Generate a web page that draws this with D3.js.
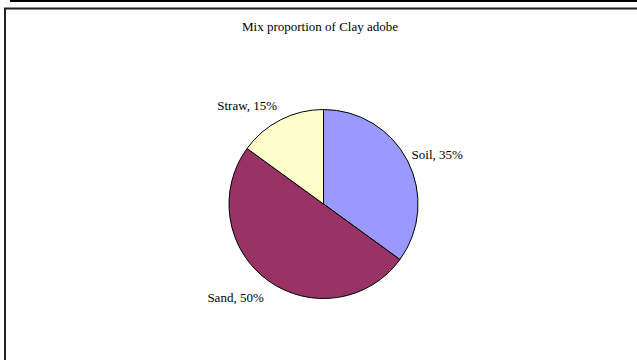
<!DOCTYPE html>
<html>
<head>
<meta charset="utf-8">
<script src="https://cdn.jsdelivr.net/npm/d3@7"></script>
<style>
  body { margin: 0; background: #fff; }
  text { font-family: "Liberation Serif", "Times New Roman", serif; fill: #000; }
</style>
</head>
<body>
<div id="chartArea"></div>
<script>
var title = "Mix proportion of Clay adobe";
var categories = ["Soil", "Sand", "Straw"];
var shares = [35, 50, 15];
var sliceColors = ["#9999ff", "#993366", "#ffffcc"];

var width = 637, height = 360;
var cx = 323.5, cy = 204, radius = 94.5;
// label nudges relative to a point just outside each slice (layout only)
var labelNudge = [[-1, 0.5], [-1, 17], [-1, -5]];

var svg = d3
  .select("#chartArea")
  .append("svg")
  .attr("width", width)
  .attr("height", height);

// frame, like the clipped worksheet border
svg.append("rect")
  .attr("x", 10).attr("y", 0)
  .attr("width", width - 10).attr("height", 2)
  .attr("fill", "#000");
svg.append("path")
  .attr("d", "M5," + height + "V8.5H" + width)
  .attr("fill", "none")
  .attr("stroke", "#222")
  .attr("stroke-width", 2);

svg.append("text")
  .attr("x", 320)
  .attr("y", 31)
  .attr("text-anchor", "middle")
  .style("font-size", "13px")
  .text(title);

var data = categories.map(function (c, i) {
  return { name: c, value: shares[i], color: sliceColors[i] };
});

var pie = d3.pie().sort(null).value(function (d) { return d.value; });
var arc = d3.arc().innerRadius(0).outerRadius(radius);
var labelArc = d3.arc().innerRadius(100).outerRadius(100);

var g = svg.append("g").attr("transform", "translate(" + cx + "," + cy + ")");
var arcs = pie(data);

g.selectAll("path.slice")
  .data(arcs)
  .enter()
  .append("path")
  .attr("class", "slice")
  .attr("d", arc)
  .attr("fill", function (d) { return d.data.color; })
  .attr("stroke", "#000")
  .attr("stroke-width", 1);

g.selectAll("text.lbl")
  .data(arcs)
  .enter()
  .append("text")
  .attr("class", "lbl")
  .attr("x", function (d, i) { return labelArc.centroid(d)[0] + labelNudge[i][0]; })
  .attr("y", function (d, i) { return labelArc.centroid(d)[1] + labelNudge[i][1]; })
  .attr("text-anchor", function (d) {
    return (d.startAngle + d.endAngle) / 2 < Math.PI ? "start" : "end";
  })
  .style("font-size", "13px")
  .text(function (d) { return d.data.name + ", " + d.data.value + "%"; });
</script>
</body>
</html>
